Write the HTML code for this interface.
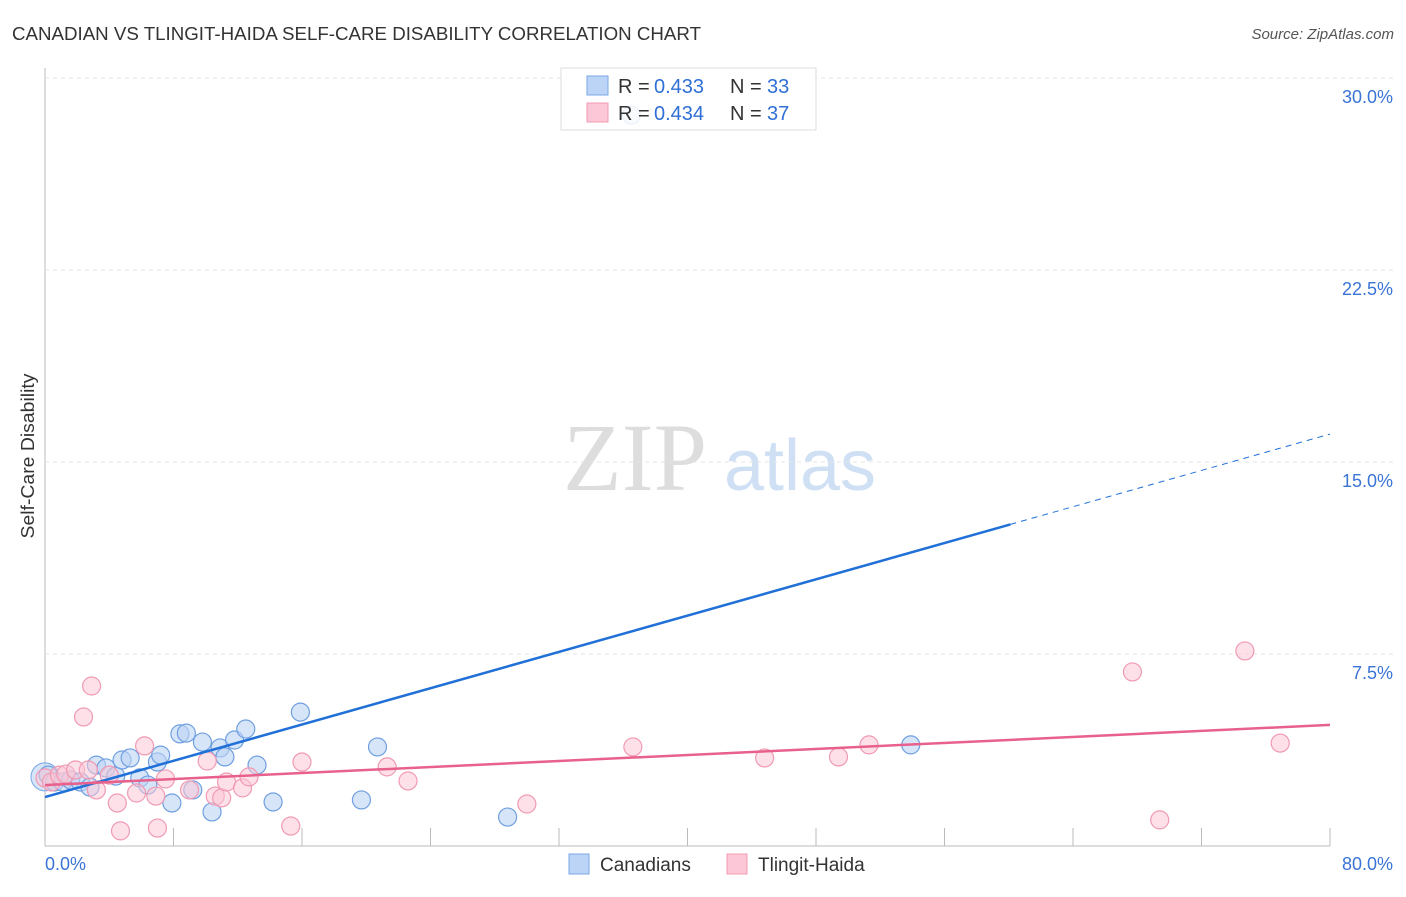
<!DOCTYPE html>
<html><head><meta charset="utf-8"><style>
body{margin:0;background:#fff;font-family:"Liberation Sans",sans-serif}
</style></head><body>
<svg id="c" width="1406" height="892" xmlns="http://www.w3.org/2000/svg" font-family="Liberation Sans, sans-serif">
<text x="12" y="40" font-size="18" fill="#333" textLength="689" lengthAdjust="spacingAndGlyphs">CANADIAN VS TLINGIT-HAIDA SELF-CARE DISABILITY CORRELATION CHART</text>
<text x="1394" y="39" font-size="15" fill="#555" font-style="italic" text-anchor="end">Source: ZipAtlas.com</text>
<text x="635" y="490" font-size="96" fill="#ddd" font-family="Liberation Serif, serif" text-anchor="middle">ZIP</text>
<text x="800" y="490" font-size="72" fill="#cfe0f5" text-anchor="middle">atlas</text>
<text x="34" y="456" font-size="18" fill="#333" text-anchor="middle" textLength="165" lengthAdjust="spacingAndGlyphs" transform="rotate(-90 34 456)">Self-Care Disability</text>
<g id="grid"></g><g id="pts"></g><g id="lines"></g>
<g>
<rect x="561" y="68" width="255" height="62" fill="#fff" fill-opacity="0.85" stroke="#ddd"/>
<rect x="587" y="76" width="21" height="19" fill="#bcd4f5" stroke="#7aa7e6"/>
<rect x="587" y="103" width="21" height="19" fill="#fcc7d6" stroke="#f09ab3"/>
<text y="93" font-size="20" fill="#333"><tspan x="618">R =</tspan><tspan x="654" fill="#2f6fd6">0.433</tspan><tspan x="730">N =</tspan><tspan x="767" fill="#2f6fd6">33</tspan></text>
<text y="120" font-size="20" fill="#333"><tspan x="618">R =</tspan><tspan x="654" fill="#2f6fd6">0.434</tspan><tspan x="730">N =</tspan><tspan x="767" fill="#2f6fd6">37</tspan></text>
</g>
<g>
<rect x="569" y="854" width="20" height="20" fill="#bcd4f5" stroke="#7aa7e6"/>
<text x="600" y="871" font-size="19" fill="#333">Canadians</text>
<rect x="727" y="854" width="20" height="20" fill="#fcc7d6" stroke="#f09ab3"/>
<text x="758" y="871" font-size="19" fill="#333">Tlingit-Haida</text>
</g>
</svg>
<script>
const yTicks=[7.5,15,22.5,30];
const yTickLabels=["7.5%","15.0%","22.5%","30.0%"];
const xTickLabels=["0.0%","80.0%"];
const blueX=[0.2,0.6,1.1,1.6,2.2,2.8,3.2,3.8,4.4,4.8,5.3,5.9,6.4,7.0,7.2,7.9,8.4,8.8,9.2,9.8,10.4,10.9,11.2,11.8,12.5,13.2,14.2,15.9,19.7,20.7,28.8,53.9,36.5];
const blueY=[2.77,2.5,2.5,2.58,2.5,2.3,3.16,3.05,2.73,3.36,3.44,2.66,2.38,3.28,3.55,1.68,4.38,4.41,2.19,4.06,1.33,3.83,3.48,4.14,4.57,3.16,1.72,5.23,1.8,3.87,1.13,3.95,28.55];
const pinkX=[0,0.4,0.9,1.3,1.9,2.4,2.9,2.7,3.2,4.0,4.5,4.7,5.7,6.2,6.9,7.0,7.5,9.0,10.1,10.6,11.0,11.3,12.3,12.7,15.3,16.0,21.3,22.6,30.0,36.6,44.8,49.4,51.3,67.7,69.4,74.7,76.9];
const pinkY=[2.66,2.5,2.77,2.81,2.97,5.04,6.25,2.97,2.19,2.77,1.68,0.59,2.07,3.91,1.95,0.7,2.62,2.19,3.32,1.95,1.88,2.5,2.27,2.7,0.78,3.28,3.09,2.54,1.64,3.87,3.44,3.48,3.95,6.8,1.02,7.62,4.02];
const blueLine=[1.91,16.09], pinkLine=[2.38,4.73], blueSolidEnd=60.1;
const X=v=>45+v/80*1285, Y=v=>846-v*25.6;
const NS="http://www.w3.org/2000/svg";
function mk(t,a,p){const e=document.createElementNS(NS,t);for(const k in a)e.setAttribute(k,a[k]);p.appendChild(e);return e;}
const grid=document.getElementById('grid');
mk('line',{x1:45,y1:68,x2:45,y2:846,stroke:'#bbb'},grid);
mk('line',{x1:45,y1:846,x2:1330,y2:846,stroke:'#bbb'},grid);
yTicks.forEach((t,i)=>{
 const l=mk('line',{x1:45,y1:Y(t),x2:1393,y2:Y(t),stroke:'#e4e4e4','stroke-dasharray':'4,4'},grid);
 
 
 const tx=mk('text',{x:1393,y:Y(t)+25,'font-size':18,fill:'#3a74d6','text-anchor':'end'},grid);
 tx.textContent=yTickLabels[i];
 
 
});
for(let i=1;i<=10;i++){const l=mk('line',{x1:X(i*8),y1:846,x2:X(i*8),y2:828,stroke:'#bbb'},grid);
 
 }
[[45,'start'],[1393,'end']].forEach((p,i)=>{const t=mk('text',{x:p[0],y:870,'font-size':18,fill:'#3a74d6','text-anchor':p[1]},grid);t.textContent=xTickLabels[i];
 
 });
const pts=document.getElementById('pts');
const big=mk('circle',{cx:X(0),cy:Y(2.7),r:14,fill:'#bcd4f5','fill-opacity':0.6,stroke:'#7aa7e6'},pts);


blueX.forEach((x,i)=>{const c=mk('circle',{cx:X(x),cy:Y(blueY[i]),r:9,fill:'#bcd4f5','fill-opacity':0.6,stroke:'#6f9fe0','stroke-width':1.2},pts);
 
 });
pinkX.forEach((x,i)=>{const c=mk('circle',{cx:X(x),cy:Y(pinkY[i]),r:9,fill:'#fcc7d6','fill-opacity':0.55,stroke:'#f09ab3','stroke-width':1.2},pts);
 
 });
const ln=document.getElementById('lines');
const by=x=>blueLine[0]+(blueLine[1]-blueLine[0])*x/80;
let a=mk('line',{x1:X(0),y1:Y(by(0)),x2:X(blueSolidEnd),y2:Y(by(blueSolidEnd)),stroke:'#2070d8','stroke-width':2.5},ln);


a=mk('line',{x1:X(blueSolidEnd),y1:Y(by(blueSolidEnd)),x2:X(80),y2:Y(by(80)),stroke:'#2070d8','stroke-width':1,'stroke-dasharray':'6,5'},ln);


a=mk('line',{x1:X(0),y1:Y(pinkLine[0]),x2:X(80),y2:Y(pinkLine[1]),stroke:'#e8608c','stroke-width':2.5},ln);


</script>
</body></html>
